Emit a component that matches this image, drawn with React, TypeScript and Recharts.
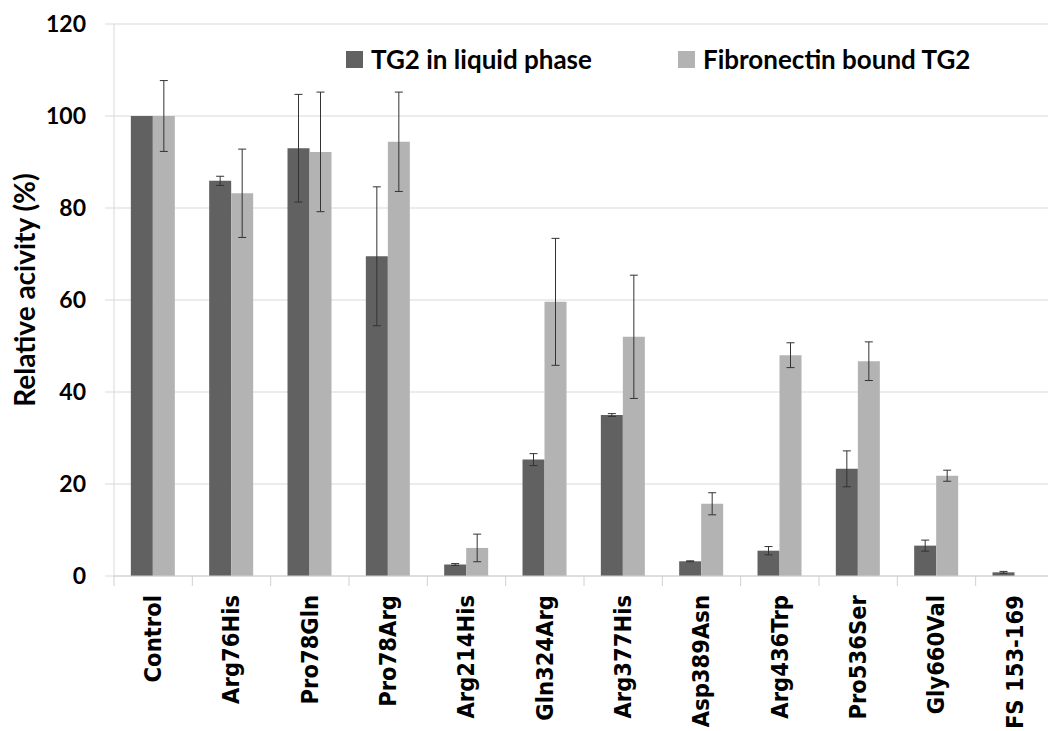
import React from 'react';
import { BarChart, Bar, XAxis, YAxis, CartesianGrid, ErrorBar, Legend } from 'recharts';

const categories = ['Control', 'Arg76His', 'Pro78Gln', 'Pro78Arg', 'Arg214His', 'Gln324Arg', 'Arg377His', 'Asp389Asn', 'Arg436Trp', 'Pro536Ser', 'Gly660Val', 'FS 153-169'];
const liquidValues = [100, 85.9, 93.0, 69.5, 2.5, 25.3, 35.0, 3.2, 5.5, 23.3, 6.6, 0.8];
const liquidErrors = [0, 1.0, 11.7, 15.1, 0.2, 1.3, 0.3, 0.1, 0.9, 3.9, 1.2, 0.2];
const boundValues = [100, 83.2, 92.2, 94.4, 6.1, 59.6, 52.0, 15.7, 48.0, 46.7, 21.8, 0];
const boundErrors = [7.7, 9.6, 13.0, 10.8, 3.0, 13.8, 13.4, 2.4, 2.7, 4.2, 1.2, 0];
const yTicks = [0, 20, 40, 60, 80, 100, 120];

const seriesNames = ['TG2 in liquid phase', 'Fibronectin bound TG2'];
const colors = ['#616161', '#b3b3b3'];

const data = categories.map((c, i) => ({
  name: c,
  liquid: liquidValues[i],
  liquidErr: liquidErrors[i],
  bound: boundValues[i],
  boundErr: boundErrors[i],
}));

const FONT = 'Lato, "Open Sans", sans-serif';

const XTick = (props: any) => {
  const { x, y, payload, index } = props;
  const off = payload && typeof payload.offset === 'number' && payload.offset > 0 ? payload.offset : 39.15;
  const last = index === categories.length - 1;
  const ty = y + 9;
  return (
    <g>
      <line x1={x - off} x2={x - off} y1={y - 10} y2={y} stroke="#d0d0d0" />
      {last && <line x1={x + off} x2={x + off} y1={y - 10} y2={y} stroke="#d0d0d0" />}
      <text
        x={0}
        y={0}
        transform={`translate(${x}, ${ty}) rotate(-90) scale(0.94, 1)`}
        textAnchor="end"
        dominantBaseline="central"
        fontFamily='"DejaVu Sans", sans-serif'
        fontWeight="bold"
        fontSize={22.5}
        fill="#000"
      >
        {payload.value}
      </text>
    </g>
  );
};

const YLabel = (props: any) => {
  const vb = props.viewBox || {};
  const cy = (vb.y || 0) + (vb.height || 0) / 2 - 10;
  const cx = 24;
  return (
    <text
      x={cx}
      y={cy}
      transform={`rotate(-90, ${cx}, ${cy})`}
      textAnchor="middle"
      dominantBaseline="central"
      fontFamily={FONT}
      fontWeight="bold"
      fontSize={28}
      fill="#000"
    >
      Relative acivity (%)
    </text>
  );
};

const LegendContent = () => (
  <div style={{ display: 'flex', alignItems: 'center', fontFamily: FONT, fontWeight: 'bold', fontSize: 26, color: '#000', whiteSpace: 'nowrap' }}>
    {seriesNames.map((n, i) => (
      <div key={n} style={{ display: 'flex', alignItems: 'center', width: i === 0 ? 332 : 'auto' }}>
        <div style={{ width: 17, height: 17, background: colors[i], marginRight: 8 }} />
        <span>{n}</span>
      </div>
    ))}
  </div>
);

export default function App() {
  return (
    <div style={{ position: 'absolute', left: 0, top: 0, width: 1048, height: 731, overflow: 'hidden', background: '#fff' }}>
      <BarChart
        width={1062}
        height={731}
        data={data}
        margin={{ top: 24, right: 8, left: 0, bottom: 5 }}
        barCategoryGap="21.5%"
        barGap={0}
      >
        <CartesianGrid vertical={false} stroke="#d9d9d9" />
        <XAxis
          dataKey="name"
          interval={0}
          height={150}
          tickSize={10}
          tickMargin={0}
          tickLine={false}
          axisLine={{ stroke: '#d0d0d0' }}
          tick={<XTick />}
        />
        <YAxis
          width={114}
          domain={[0, 120]}
          ticks={yTicks}
          tickSize={9}
          tickMargin={19}
          tickLine={{ stroke: '#d9d9d9' }}
          axisLine={{ stroke: '#d9d9d9' }}
          tick={{ fontFamily: FONT, fontWeight: 'bold', fontSize: 23, fill: '#000' }}
          label={<YLabel />}
        />
        <Legend
          verticalAlign="middle"
          align="center"
          layout="horizontal"
          wrapperStyle={{ position: 'absolute', top: 43, left: 346, width: 'auto' }}
          content={<LegendContent />}
        />
        <Bar dataKey="liquid" name={seriesNames[0]} fill={colors[0]} isAnimationActive={false}>
          <ErrorBar dataKey="liquidErr" width={4} stroke="#333" strokeWidth={1} />
        </Bar>
        <Bar dataKey="bound" name={seriesNames[1]} fill={colors[1]} isAnimationActive={false}>
          <ErrorBar dataKey="boundErr" width={4} stroke="#333" strokeWidth={1} />
        </Bar>
      </BarChart>
    </div>
  );
}
